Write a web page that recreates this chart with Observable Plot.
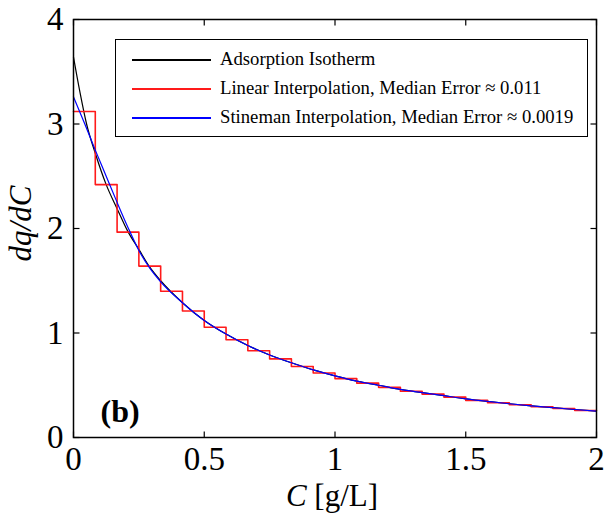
<!DOCTYPE html>
<html>
<head>
<meta charset="utf-8">
<script src="https://cdn.jsdelivr.net/npm/d3@7"></script>
<script src="https://cdn.jsdelivr.net/npm/@observablehq/plot@0.6"></script>
<style>
  html, body { margin: 0; padding: 0; background: #fff; }
  #wrap { position: relative; width: 604px; height: 518px; font-family: "Liberation Serif", "Times New Roman", serif; }
  #legend { position: absolute; left: 115px; top: 39px; width: 471px; height: 96px; border: 1.5px solid #000; background: #fff; }
  .row { position: absolute; left: 0; height: 20px; width: 100%; }
  .row .ln { position: absolute; left: 16px; width: 79px; top: 9px; }
  .row .tx { position: absolute; left: 104px; top: -2px; font-size: 18.7px; line-height: 22px; white-space: nowrap; color: #000; }
  #xlabel { position: absolute; left: 0; width: 664px; text-align: center; top: 479px; font-size: 31px; line-height: 34px; }
</style>
</head>
<body>
<div id="wrap"></div>
<script>
// ---- data ----
const seriesNames = [
  "Adsorption Isotherm",
  "Linear Interpolation, Median Error \u2248 0.011",
  "Stineman Interpolation, Median Error \u2248 0.0019"
];
const seriesColors = ["#000000", "#ff1a1a", "#0000ff"];

// Adsorption isotherm derivative (black)
const isoC = [0, 0.025, 0.05, 0.0833, 0.125, 0.1667, 0.2083, 0.25, 0.2917, 0.3333, 0.4167, 0.5, 0.5833, 0.6667, 0.75, 0.8333, 0.9167, 1.0, 1.0833, 1.1667, 1.25, 1.3333, 1.4167, 1.5, 1.5833, 1.6667, 1.75, 1.8333, 1.9167, 2.0];
const isoV = [3.64, 3.30, 3.00, 2.72, 2.42, 2.19, 1.97, 1.80, 1.63, 1.50, 1.29, 1.12, 0.99, 0.88, 0.79, 0.715, 0.647, 0.59, 0.54, 0.50, 0.46, 0.43, 0.40, 0.37, 0.345, 0.323, 0.303, 0.285, 0.268, 0.252];

// Linear interpolation (red step function): interval starts and values
const stepC = [0, 0.0833, 0.1667, 0.25, 0.3333, 0.4167, 0.5, 0.5833, 0.6667, 0.75, 0.8333, 0.9167, 1.0, 1.0833, 1.1667, 1.25, 1.3333, 1.4167, 1.5, 1.5833, 1.6667, 1.75, 1.8333, 1.9167, 2.0];
const stepV = [3.12, 2.42, 1.965, 1.64, 1.40, 1.21, 1.055, 0.935, 0.83, 0.752, 0.68, 0.617, 0.563, 0.52, 0.48, 0.443, 0.415, 0.386, 0.355, 0.332, 0.313, 0.294, 0.277, 0.258, 0.258];

// Stineman interpolation (blue)
const stinC = [0, 0.0417, 0.0833, 0.125, 0.1667, 0.2083, 0.25, 0.2917, 0.3333, 0.4167, 0.5, 0.5833, 0.6667, 0.75, 0.8333, 0.9167, 1.0, 1.0833, 1.1667, 1.25, 1.3333, 1.4167, 1.5, 1.5833, 1.6667, 1.75, 1.8333, 1.9167, 2.0];
const stinV = [3.26, 3.01, 2.75, 2.50, 2.25, 2.01, 1.79, 1.62, 1.49, 1.29, 1.12, 0.99, 0.88, 0.79, 0.715, 0.647, 0.59, 0.54, 0.50, 0.46, 0.43, 0.40, 0.37, 0.345, 0.323, 0.303, 0.285, 0.268, 0.252];

const xDomain = [0, 2];
const yDomain = [0, 4];
const xTicks = [0, 0.5, 1, 1.5, 2];
const yTicks = [0, 1, 2, 3, 4];
const xTickLabels = ["0", "0.5", "1", "1.5", "2"];
const yTickLabels = ["0", "1", "2", "3", "4"];
const panelLabel = "(b)";
const yLabel = "dq/dC";

// ---- build tables ----
const iso = isoC.map((c, i) => ({c, v: isoV[i]}));
const steps = stepC.map((c, i) => ({c, v: stepV[i]}));
const stin = stinC.map((c, i) => ({c, v: stinV[i]}));

const font = "'Liberation Serif', 'Times New Roman', serif";

// inward tick-mark symbols
const TL = 6;
const tickUp = {draw(ctx) { ctx.moveTo(0, 0); ctx.lineTo(0, -TL); }};
const tickDown = {draw(ctx) { ctx.moveTo(0, 0); ctx.lineTo(0, TL); }};
const tickRight = {draw(ctx) { ctx.moveTo(0, 0); ctx.lineTo(TL, 0); }};
const tickLeft = {draw(ctx) { ctx.moveTo(0, 0); ctx.lineTo(-TL, 0); }};
const tickStyle = {stroke: "black", strokeWidth: 1.2, fill: "none", r: 3};

const chart = Plot.plot({
  width: 604,
  height: 518,
  marginLeft: 73,
  marginRight: 8,
  marginTop: 19,
  marginBottom: 81,
  style: {fontFamily: font, background: "white", color: "black", overflow: "visible"},
  x: {domain: xDomain},
  y: {domain: yDomain},
  marks: [
    Plot.line(iso, {x: "c", y: "v", stroke: seriesColors[0], strokeWidth: 1.2, curve: "monotone-x"}),
    Plot.line(steps, {x: "c", y: "v", stroke: seriesColors[1], strokeWidth: 1.6, curve: "step-after"}),
    Plot.line(stin, {x: "c", y: "v", stroke: seriesColors[2], strokeWidth: 1.2, curve: "monotone-x"}),
    Plot.frame({stroke: "black", strokeWidth: 1.5}),
    Plot.dot(xTicks, {x: (d) => d, y: () => yDomain[0], symbol: tickUp, ...tickStyle}),
    Plot.dot(xTicks, {x: (d) => d, y: () => yDomain[1], symbol: tickDown, ...tickStyle}),
    Plot.dot(yTicks, {y: (d) => d, x: () => xDomain[0], symbol: tickRight, ...tickStyle}),
    Plot.dot(yTicks, {y: (d) => d, x: () => xDomain[1], symbol: tickLeft, ...tickStyle}),
    Plot.axisX({anchor: "bottom", ticks: xTicks, tickSize: 0, tickPadding: 9, fontSize: 33,
      tickFormat: (d) => xTickLabels[xTicks.indexOf(d)], label: null}),
    Plot.axisY({anchor: "left", ticks: yTicks, tickSize: 0, tickPadding: 10, fontSize: 33,
      tickFormat: (d) => yTickLabels[yTicks.indexOf(d)], label: null}),
    Plot.text([panelLabel], {frameAnchor: "bottom-left", text: (d) => d, dx: 27, dy: -16,
      fontSize: 32, fontWeight: "bold", fontFamily: font, textAnchor: "start", lineAnchor: "bottom"}),
    Plot.text([yLabel], {frameAnchor: "left", text: (d) => d, dx: -52, dy: -5, rotate: -90, textAnchor: "middle",
      fontSize: 31, fontStyle: "italic", fontFamily: font})
  ]
});

const wrap = document.getElementById("wrap");
wrap.appendChild(chart);

// legend
const legend = document.createElement("div");
legend.id = "legend";
const rowTops = [10, 39, 68];
seriesNames.forEach((name, i) => {
  const row = document.createElement("div");
  row.className = "row";
  row.style.top = rowTops[i] + "px";
  const ln = document.createElement("div");
  ln.className = "ln";
  ln.style.background = seriesColors[i];
  ln.style.height = (i === 1 ? 2 : 1.5) + "px";
  const tx = document.createElement("div");
  tx.className = "tx";
  tx.textContent = name;
  row.appendChild(ln);
  row.appendChild(tx);
  legend.appendChild(row);
});
wrap.appendChild(legend);

// x label
const xl = document.createElement("div");
xl.id = "xlabel";
const ci = document.createElement("i");
ci.textContent = "C";
xl.appendChild(ci);
xl.appendChild(document.createTextNode(" [g/L]"));
wrap.appendChild(xl);
</script>
</body>
</html>
